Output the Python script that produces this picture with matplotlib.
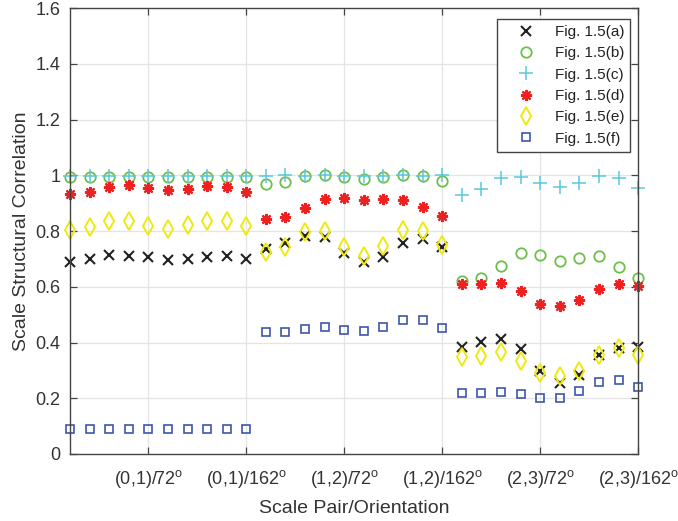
import numpy as np
import matplotlib
matplotlib.use("Agg")
from matplotlib import pyplot as plt

plt.rcParams['font.family'] = ['Liberation Sans', 'DejaVu Sans']
plt.rcParams['mathtext.fontset'] = 'custom'
plt.rcParams['mathtext.rm'] = 'Liberation Sans'

# 30 scale pair / orientation combinations
idx = np.arange(1, 31)

fig_a = [0.689, 0.700, 0.713, 0.712, 0.707, 0.696, 0.700, 0.708, 0.710, 0.700,
         0.734, 0.756, 0.782, 0.777, 0.720, 0.690, 0.708, 0.756, 0.770, 0.744,
         0.385, 0.401, 0.411, 0.376, 0.299, 0.254, 0.283, 0.355, 0.381, 0.385]
fig_b = [0.993, 0.993, 0.993, 0.993, 0.993, 0.993, 0.993, 0.993, 0.993, 0.993,
         0.969, 0.976, 0.997, 1.002, 0.993, 0.987, 0.993, 1.002, 0.998, 0.979,
         0.622, 0.631, 0.674, 0.721, 0.713, 0.691, 0.702, 0.710, 0.672, 0.630]
fig_c = [0.996, 0.996, 0.996, 0.996, 0.996, 0.996, 0.996, 0.996, 0.996, 0.996,
         0.998, 1.000, 0.998, 1.002, 0.997, 0.998, 0.997, 1.002, 0.999, 1.002,
         0.930, 0.951, 0.989, 0.995, 0.971, 0.957, 0.971, 0.997, 0.989, 0.953]
fig_d = [0.932, 0.940, 0.959, 0.965, 0.953, 0.947, 0.950, 0.963, 0.959, 0.939,
         0.843, 0.850, 0.881, 0.915, 0.918, 0.910, 0.914, 0.911, 0.885, 0.855,
         0.611, 0.611, 0.612, 0.584, 0.538, 0.532, 0.552, 0.593, 0.611, 0.604]
fig_e = [0.804, 0.816, 0.835, 0.836, 0.819, 0.807, 0.820, 0.836, 0.836, 0.818,
         0.726, 0.744, 0.797, 0.801, 0.741, 0.710, 0.746, 0.804, 0.800, 0.750,
         0.349, 0.352, 0.367, 0.335, 0.292, 0.280, 0.299, 0.355, 0.379, 0.355]
fig_f = [0.089, 0.089, 0.089, 0.089, 0.089, 0.089, 0.089, 0.089, 0.089, 0.089,
         0.439, 0.439, 0.450, 0.457, 0.446, 0.442, 0.457, 0.480, 0.480, 0.452,
         0.218, 0.218, 0.222, 0.215, 0.200, 0.200, 0.227, 0.259, 0.265, 0.242]

tick_pos = [5, 10, 15, 20, 25, 30]
tick_labels = [r'(0,1)/72$^{\mathrm{o}}$', r'(0,1)/162$^{\mathrm{o}}$',
               r'(1,2)/72$^{\mathrm{o}}$', r'(1,2)/162$^{\mathrm{o}}$',
               r'(2,3)/72$^{\mathrm{o}}$', r'(2,3)/162$^{\mathrm{o}}$']

fig = plt.figure(figsize=(6.78, 5.21), dpi=100)
ax = fig.add_axes([0.1032, 0.1286, 0.838, 0.856])

ax.plot(idx, fig_a, ls='none', marker='x', ms=6.5, mew=1.5, color='#222222', label='Fig. 1.5(a)', clip_on=False)
ax.plot(idx, fig_b, ls='none', marker='o', ms=7.5, mew=1.3, mfc='none', color='#6cc04a', label='Fig. 1.5(b)', clip_on=False)
ax.plot(idx, fig_c, ls='none', marker='+', ms=10, mew=1.1, color='#5bc8e2', label='Fig. 1.5(c)', clip_on=False)
ax.plot(idx, fig_d, ls='none', marker=(8, 2, 0), ms=8, mew=1.6, color='#ee2020', label='Fig. 1.5(d)', clip_on=False)
ax.plot(idx, fig_e, ls='none', marker='d', ms=9, mew=1.4, mfc='none', color='#eeea10', label='Fig. 1.5(e)', clip_on=False)
ax.plot(idx, fig_f, ls='none', marker='s', ms=5.5, mew=1.2, mfc='none', color='#3d56aa', label='Fig. 1.5(f)', clip_on=False)

ax.set_xlim(1, 30)
ax.set_ylim(0, 1.6)
ax.set_xticks(tick_pos)
ax.set_xticklabels(tick_labels)
ax.set_yticks(np.arange(0, 1.61, 0.2))
ax.set_yticklabels(['0', '0.2', '0.4', '0.6', '0.8', '1', '1.2', '1.4', '1.6'])

ax.grid(True, color='#e4e4e4', lw=0.9)
ax.set_axisbelow(True)
for s in ax.spines.values():
    s.set_color('#444444')
    s.set_linewidth(1.0)
ax.tick_params(direction='in', top=True, right=True, length=5, width=0.9,
               colors='#444444', labelcolor='#333333', labelsize=13)
ax.tick_params(axis='x', pad=10)
ax.tick_params(axis='y', pad=7)

ax.set_xlabel('Scale Pair/Orientation', fontsize=14, color='#333333', labelpad=7)
ax.set_ylabel('Scale Structural Correlation', fontsize=14, color='#333333', labelpad=4)

leg = ax.legend(loc='upper right', bbox_to_anchor=(0.9995, 0.993), fontsize=11,
                handlelength=3.0, handletextpad=0.4, borderpad=0.4, labelspacing=0.48,
                fancybox=False, framealpha=1, edgecolor='#444444')
leg.get_frame().set_linewidth(1.0)
for t in leg.get_texts():
    t.set_color('#222222')

fig.savefig('out.png', dpi=100)
